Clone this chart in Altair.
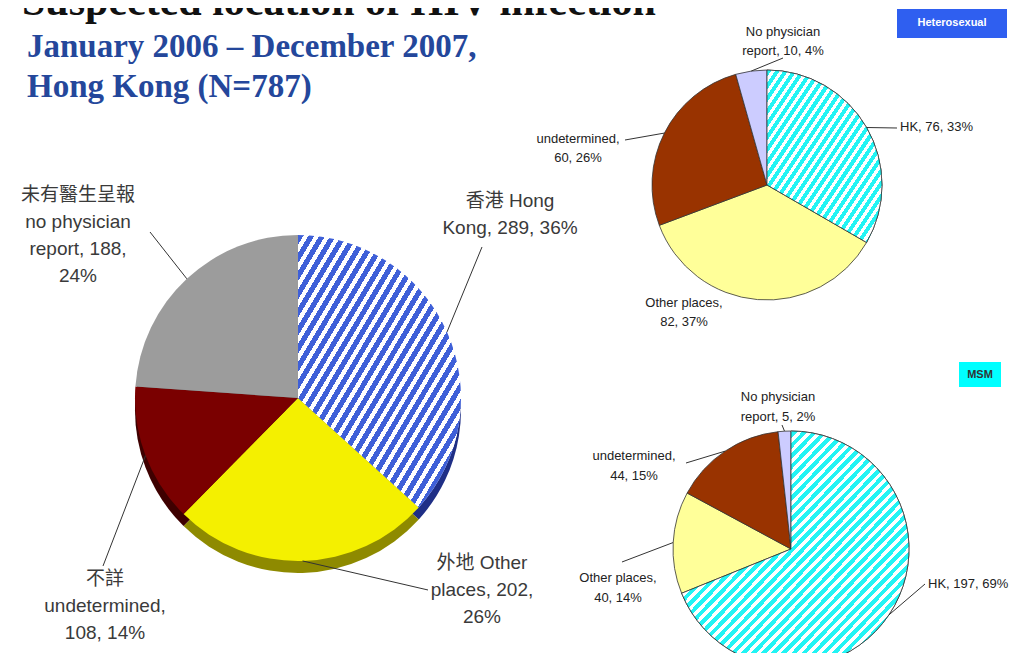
import altair as alt
import pandas as pd

# ---------------- data ----------------
categories = ["HK", "Other places", "undetermined", "No physician report"]

overall_values = [289, 202, 108, 188]
overall_labels = [
    "香港 Hong\nKong, 289, 36%",
    "外地 Other\nplaces, 202,\n26%",
    "不詳\nundetermined,\n108, 14%",
    "未有醫生呈報\nno physician\nreport, 188,\n24%",
]

hetero_values = [76, 82, 60, 10]
hetero_labels = [
    "HK, 76, 33%",
    "Other places,\n82, 37%",
    "undetermined,\n60, 26%",
    "No physician\nreport, 10, 4%",
]

msm_values = [197, 40, 44, 5]
msm_labels = [
    "HK, 197, 69%",
    "Other places,\n40, 14%",
    "undetermined,\n44, 15%",
    "No physician\nreport, 5, 2%",
]

title_text = "Suspected location of HIV infection"
subtitle_lines = ["January 2006 – December 2007,", "Hong Kong (N=787)"]
hetero_tag = "Heterosexual"
msm_tag = "MSM"

# ---------------- styles / layout ----------------
OFF = 8  # page margin
W, H = 1007, 645
SANS = "Liberation Sans, Arial, Noto Sans CJK TC, sans-serif"
SERIF = "Liberation Serif, Times New Roman, serif"

main_colors = ["#ffffff", "#f4f000", "#7a0000", "#9c9c9c"]
main_side = ["#1f2f86", "#8e8a00", "#3e0000", "#5c5c5c"]
small_colors = ["#ffffff", "#ffff99", "#993300", "#ccccff"]


def hatch(color, n):
    stops = []
    for i in range(n):
        a, b, c = i / n, (i + 0.55) / n, (i + 1) / n
        stops += [
            {"offset": round(a, 5), "color": color},
            {"offset": round(b, 5), "color": color},
            {"offset": round(b, 5), "color": "#ffffff"},
            {"offset": round(c, 5), "color": "#ffffff"},
        ]
    return {"gradient": "linear", "x1": 0, "y1": 0, "x2": 1, "y2": 1, "stops": stops}


def pie(values, labels, colors, hatch_color, n_stripes, cx, cy, r, stroke, stroke_w,
        label_pos, leader_end, font_size, line_height, text_color, side=None, side_off=0):
    df = pd.DataFrame({
        "cat": categories,
        "value": values,
        "label": labels,
        "order": list(range(len(categories))),
        "fill": colors,
        "side": side if side else colors,
    })
    base = (
        alt.Chart(df)
        .transform_window(cum="sum(value)", sort=[alt.SortField("order")], frame=[None, 0])
        .transform_joinaggregate(total="sum(value)")
        .transform_calculate(
            a0="2*PI*(datum.cum - datum.value)/datum.total",
            a1="2*PI*datum.cum/datum.total",
        )
        .transform_calculate(mid="(datum.a0 + datum.a1)/2")
    )
    th = alt.Theta("a0:Q", scale=None)
    th2 = alt.Theta2("a1")
    X = alt.value(cx - OFF)
    Y = alt.value(cy - OFF)
    layers = []
    if side:
        layers.append(
            base.mark_arc(outerRadius=r).encode(
                theta=th, theta2=th2, color=alt.Color("side:N", scale=None),
                x=X, y=alt.value(cy - OFF + side_off))
        )
    arc_kw = dict(outerRadius=r)
    if stroke_w > 0:
        arc_kw.update(stroke=stroke, strokeWidth=stroke_w)
    layers.append(
        base.mark_arc(**arc_kw).encode(
            theta=th, theta2=th2, color=alt.Color("fill:N", scale=None), x=X, y=Y)
    )
    layers.append(
        base.transform_filter(alt.datum.cat == "HK")
        .mark_arc(fill=hatch(hatch_color, n_stripes), **arc_kw)
        .encode(theta=th, theta2=th2, x=X, y=Y)
    )
    for cat, end in leader_end.items():
        ex, ey = end
        layers.append(
            base.transform_filter(alt.datum.cat == cat)
            .transform_calculate(
                lx=f"{cx - OFF} + {r}*sin(datum.mid)",
                ly=f"{cy - OFF} - {r}*cos(datum.mid)",
            )
            .mark_rule(color="#333333", strokeWidth=1)
            .encode(
                x=alt.X("lx:Q", scale=None), y=alt.Y("ly:Q", scale=None),
                x2=alt.value(ex - OFF), y2=alt.value(ey - OFF))
        )
    for cat, pos in label_pos.items():
        tx, ty, al = pos
        layers.append(
            base.transform_filter(alt.datum.cat == cat)
            .mark_text(align=al, baseline="alphabetic", lineBreak="\n",
                       fontSize=font_size, lineHeight=line_height, font=SANS,
                       color=text_color)
            .encode(x=alt.value(tx - OFF), y=alt.value(ty - OFF), text="label:N")
        )
    return layers


layers = []

# main (all) pie
layers += pie(
    overall_values, overall_labels, main_colors, "#3f60d8", 30,
    cx=298, cy=398, r=163, stroke="#333", stroke_w=0,
    label_pos={
        "HK": (510, 207, "center"),
        "Other places": (482, 569, "center"),
        "undetermined": (105, 585, "center"),
        "No physician report": (78, 201, "center"),
    },
    leader_end={
        "HK": (482, 247),
        "Other places": (428, 590),
        "undetermined": (103, 566),
        "No physician report": (150, 232),
    },
    font_size=19, line_height=27, text_color="#3a3a3a",
    side=main_side, side_off=12,
)

# heterosexual pie
layers += pie(
    hetero_values, hetero_labels, small_colors, "#22f4f4", 27,
    cx=767, cy=185, r=115, stroke="#333333", stroke_w=0.8,
    label_pos={
        "HK": (900, 131, "left"),
        "Other places": (684, 307, "center"),
        "undetermined": (578, 143, "center"),
        "No physician report": (783, 36, "center"),
    },
    leader_end={
        "HK": (897, 128),
        "undetermined": (625, 140),
        "No physician report": (783, 58),
    },
    font_size=13, line_height=19, text_color="#222222",
)

# MSM pie
layers += pie(
    msm_values, msm_labels, small_colors, "#22f4f4", 45,
    cx=791, cy=549, r=118, stroke="#333333", stroke_w=0.8,
    label_pos={
        "HK": (928, 588, "left"),
        "Other places": (618, 582, "center"),
        "undetermined": (634, 460, "center"),
        "No physician report": (778, 401, "center"),
    },
    leader_end={
        "HK": (925, 584),
        "Other places": (622, 562),
        "undetermined": (686, 463),
        "No physician report": (782, 425),
    },
    font_size=13, line_height=20, text_color="#222222",
)

# titles
anno = alt.Chart(pd.DataFrame({"t": [title_text]}))
layers.append(
    anno.mark_text(align="left", baseline="alphabetic", font=SERIF, fontSize=42,
                   fontWeight="bold", color="#111111")
    .encode(x=alt.value(22 - OFF), y=alt.value(15 - OFF), text="t:N")
)
sub = alt.Chart(pd.DataFrame({"t": ["\n".join(subtitle_lines)]}))
layers.append(
    sub.mark_text(align="left", baseline="alphabetic", font=SERIF, fontSize=33,
                  fontWeight="bold", color="#24479b", lineBreak="\n", lineHeight=40)
    .encode(x=alt.value(27 - OFF), y=alt.value(57 - OFF), text="t:N")
)

# group tags
tag = alt.Chart(pd.DataFrame({"t": [hetero_tag]}))
layers.append(
    tag.mark_rect(color="#2f5ff0").encode(
        x=alt.value(897 - OFF), x2=alt.value(1007 - OFF),
        y=alt.value(9 - OFF), y2=alt.value(38 - OFF))
)
layers.append(
    tag.mark_text(align="center", baseline="middle", font=SANS, fontSize=11,
                  fontWeight="bold", color="#ffffff")
    .encode(x=alt.value(952 - OFF), y=alt.value(23 - OFF), text="t:N")
)
tag2 = alt.Chart(pd.DataFrame({"t": [msm_tag]}))
layers.append(
    tag2.mark_rect(color="#00ffff").encode(
        x=alt.value(959 - OFF), x2=alt.value(1001 - OFF),
        y=alt.value(362 - OFF), y2=alt.value(387 - OFF))
)
layers.append(
    tag2.mark_text(align="center", baseline="middle", font=SANS, fontSize=11,
                   fontWeight="bold", color="#333333")
    .encode(x=alt.value(980 - OFF), y=alt.value(375 - OFF), text="t:N")
)

chart = (
    alt.layer(*layers)
    .properties(width=W, height=H, autosize=alt.AutoSizeParams(type="none"), padding=0)
    .configure_view(stroke=None)
)

chart.save("out.html", embed_options={"renderer": "svg", "actions": False})
